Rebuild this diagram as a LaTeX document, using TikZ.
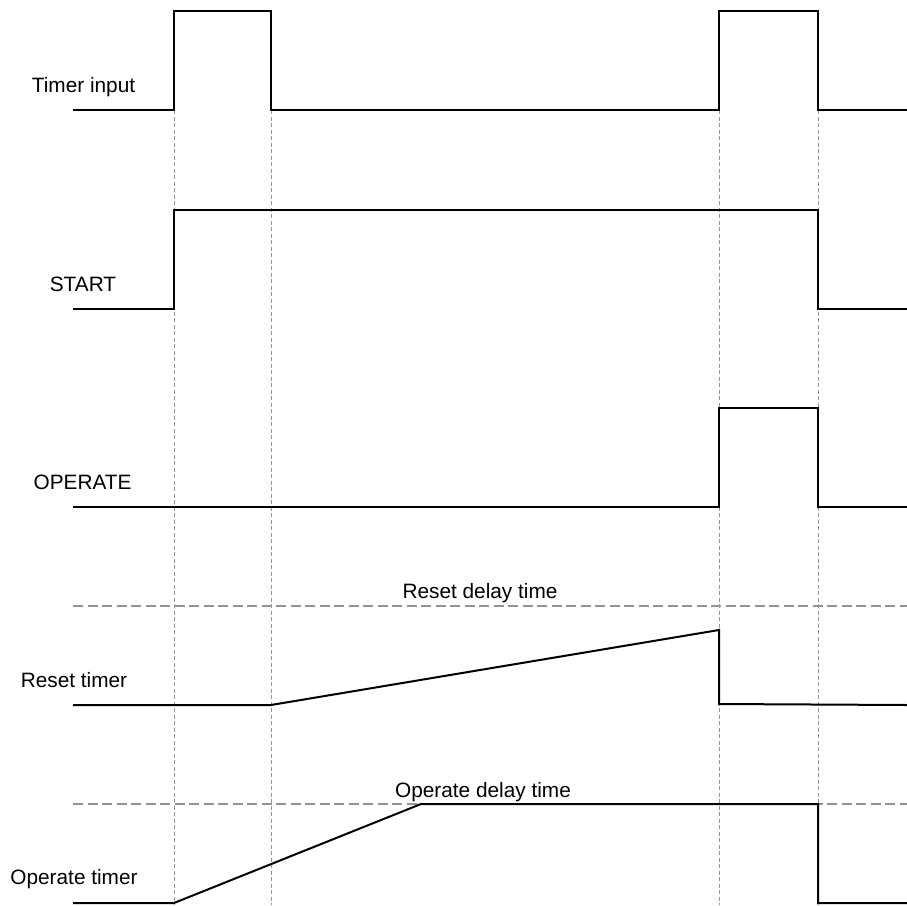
\documentclass[tikz,border=0pt]{standalone}
\usepackage{fontspec}
\setmainfont{Liberation Sans}
\begin{document}
\begin{tikzpicture}[x=1pt,y=-1pt,
  sig/.style={line width=2pt,black,line join=miter},
  guide/.style={line width=1pt,gray!85,dash pattern=on 4pt off 2.5pt},
  level/.style={line width=1.3pt,gray!85,dash pattern=on 10pt off 4.5pt},
  lbl/.style={font=\fontsize{20.8}{24}\selectfont,anchor=base,inner sep=0pt}]
\useasboundingbox (0,0) rectangle (907,905);
% guides
\foreach \x/\n in {174/ga,271/gb,719/gc,818/gd}{
  \coordinate (\n t) at (\x,110);
  \coordinate (\n b) at (\x,905);
  \draw[guide] (\n t) -- (\n b);
}
\coordinate (rl) at (73,606); \coordinate (rr) at (907,606);
\coordinate (ol) at (73,804); \coordinate (or) at (907,804);
\draw[level] (rl) -- (rr);
\draw[level] (ol) -- (or);
% labels
\node[lbl] (l1) at (83.5,92) {Timer input};
\node[lbl] (l2) at (83,291) {START};
\node[lbl] (l3) at (82.5,489) {OPERATE};
\node[lbl] (l4) at (74,687) {Reset timer};
\node[lbl] (l5) at (74,884) {Operate timer};
\node[lbl] (l6) at (480,598) {Reset delay time};
\node[lbl] (l7) at (483,797) {Operate delay time};
% signals
\draw[sig] (73,110) -- (174,110) -- (174,11) -- (271,11) -- (271,110) -- (719,110) -- (719,11) -- (818,11) -- (818,110) -- (907,110);
\draw[sig] (73,309) -- (174,309) -- (174,210) -- (818,210) -- (818,309) -- (907,309);
\draw[sig] (73,507) -- (719,507) -- (719,408) -- (818,408) -- (818,507) -- (907,507);
\draw[sig] (73,705) -- (271,705) -- (719,630) -- (719,704) -- (907,705);
\draw[sig] (73,903) -- (174,903) -- (421,804) -- (818,804) -- (818,903) -- (907,903);
\end{tikzpicture}
\end{document}
